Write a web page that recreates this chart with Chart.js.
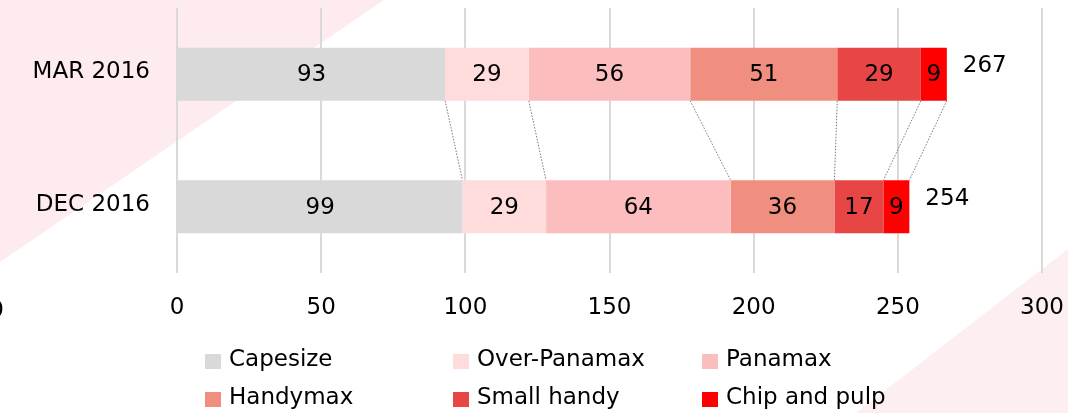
<!DOCTYPE html>
<html>
<head>
<meta charset="utf-8">
<script src="https://cdn.jsdelivr.net/npm/chart.js@4/dist/chart.umd.min.js"></script>
<style>
  html, body { margin: 0; padding: 0; background: #fff; }
  #wrap { position: relative; width: 1068px; height: 413px; overflow: hidden; }
  #c { position: absolute; left: 0; top: 0; }
  .lg-item { position: absolute; font-family: "DejaVu Sans", sans-serif; font-size: 23px; line-height: 23px; color: #000; white-space: nowrap; }
  .lg-box { position: absolute; left: 0; top: 7px; width: 16px; height: 15px; }
  .lg-text { position: absolute; left: 24px; top: 0; }
</style>
</head>
<body>
<div id="wrap">
  <canvas id="c" width="1068" height="413"></canvas>
  <div id="legend"></div>
</div>
<script>
// ---- data ----
const categories = ['MAR 2016', 'DEC 2016'];
const seriesNames = ['Capesize', 'Over-Panamax', 'Panamax', 'Handymax', 'Small handy', 'Chip and pulp'];
const capesize = [93, 99];
const overPanamax = [29, 29];
const panamax = [56, 64];
const handymax = [51, 36];
const smallHandy = [29, 17];
const chipAndPulp = [9, 9];
const totals = [267, 254];
const xTicks = [0, 50, 100, 150, 200, 250, 300];

const seriesValues = [capesize, overPanamax, panamax, handymax, smallHandy, chipAndPulp];
const seriesColors = ['#d9d9d9', '#ffdcdc', '#fbbdbd', '#f08f80', '#e84545', '#ff0000'];

const FONT = '"DejaVu Sans", sans-serif';

const bgPlugin = {
  id: 'bg',
  beforeDraw(chart) {
    const ctx = chart.ctx;
    ctx.save();
    ctx.fillStyle = '#ffffff';
    ctx.fillRect(0, 0, chart.width, chart.height);
    ctx.fillStyle = '#fdebed';
    ctx.beginPath();
    ctx.moveTo(0, 0); ctx.lineTo(384, 0); ctx.lineTo(0, 262); ctx.closePath();
    ctx.fill();
    ctx.fillStyle = '#fdeef0';
    ctx.beginPath();
    ctx.moveTo(1068, 249); ctx.lineTo(1068, 413); ctx.lineTo(856, 413); ctx.closePath();
    ctx.fill();
    ctx.restore();
  }
};

const connectorPlugin = {
  id: 'connectors',
  beforeDatasetsDraw(chart) {
    const ctx = chart.ctx;
    ctx.save();
    ctx.strokeStyle = '#7a7a7a';
    ctx.lineWidth = 1;
    ctx.setLineDash([1.5, 1.5]);
    chart.data.datasets.forEach((ds, i) => {
      const meta = chart.getDatasetMeta(i);
      const a = meta.data[0], b = meta.data[1];
      ctx.beginPath();
      ctx.moveTo(a.x, a.y + a.height / 2);
      ctx.lineTo(b.x, b.y - b.height / 2);
      ctx.stroke();
    });
    ctx.restore();
  }
};

const labelPlugin = {
  id: 'labels',
  afterDatasetsDraw(chart) {
    const ctx = chart.ctx;
    ctx.save();
    ctx.font = '23px ' + FONT;
    ctx.fillStyle = '#000';
    ctx.textBaseline = 'middle';
    ctx.textAlign = 'center';
    chart.data.datasets.forEach((ds, i) => {
      const meta = chart.getDatasetMeta(i);
      meta.data.forEach((el, j) => {
        ctx.fillText(String(ds.data[j]), (el.x + el.base) / 2, el.y + 1);
      });
    });
    const last = chart.getDatasetMeta(chart.data.datasets.length - 1);
    ctx.textAlign = 'left';
    last.data.forEach((el, j) => {
      ctx.fillText(String(totals[j]), el.x + 16, el.y - 8);
    });
    // clipped tick fragment at the far left edge
    ctx.textAlign = 'right';
    ctx.fillText('0', 4, 311);
    ctx.restore();
  }
};

Chart.defaults.font.family = FONT;
Chart.defaults.font.size = 23;
Chart.defaults.color = '#000';

const chart = new Chart(document.getElementById('c'), {
  type: 'bar',
  data: {
    labels: categories,
    datasets: seriesNames.map((name, i) => ({
      label: name,
      data: seriesValues[i],
      backgroundColor: seriesColors[i],
      borderWidth: 0,
      categoryPercentage: 1,
      barPercentage: 0.4
    }))
  },
  options: {
    indexAxis: 'y',
    responsive: false,
    devicePixelRatio: 1,
    animation: false,
    layout: { padding: { top: 8, right: 26, left: 0, bottom: 0 } },
    plugins: { legend: { display: false }, tooltip: { enabled: false } },
    scales: {
      x: {
        stacked: true,
        min: xTicks[0],
        max: xTicks[xTicks.length - 1],
        afterBuildTicks(scale) { scale.ticks = xTicks.map(v => ({ value: v })); },
        afterFit(scale) {
          scale.height = 140;
          scale.paddingLeft = 0; scale.paddingRight = 0;
          scale.paddingTop = 0; scale.paddingBottom = 0;
        },
        grid: { color: '#d9d9d9', lineWidth: 2, drawTicks: false },
        border: { display: false },
        ticks: { padding: 21, font: { size: 23 }, color: '#000' }
      },
      y: {
        stacked: true,
        afterFit(scale) {
          scale.width = 177;
          scale.paddingLeft = 0; scale.paddingRight = 0;
          scale.paddingTop = 0; scale.paddingBottom = 0;
        },
        grid: { display: false, drawTicks: false },
        border: { display: false },
        ticks: { padding: 27, labelOffset: -2, font: { size: 23 }, color: '#000' }
      }
    }
  },
  plugins: [bgPlugin, connectorPlugin, labelPlugin]
});

// HTML legend built from the chart's datasets
(function buildLegend() {
  const lg = document.getElementById('legend');
  const colX = [205, 453, 702];
  const rowY = [347, 384.5];
  chart.data.datasets.forEach((ds, i) => {
    const item = document.createElement('div');
    item.className = 'lg-item';
    item.style.left = colX[i % 3] + 'px';
    item.style.top = rowY[Math.floor(i / 3)] + 'px';
    const box = document.createElement('span');
    box.className = 'lg-box';
    box.style.background = ds.backgroundColor;
    const txt = document.createElement('span');
    txt.className = 'lg-text';
    txt.textContent = ds.label;
    item.appendChild(box);
    item.appendChild(txt);
    lg.appendChild(item);
  });
})();
</script>
</body>
</html>
